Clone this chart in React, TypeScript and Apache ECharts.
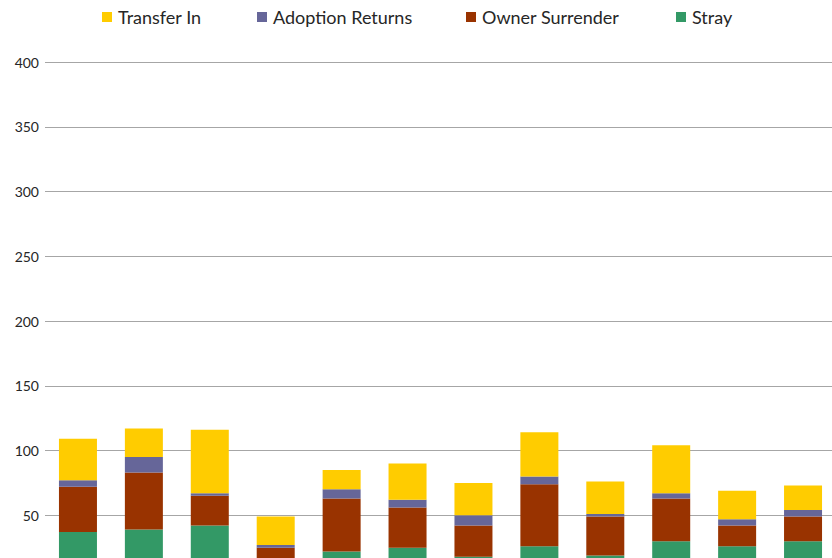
import React, { useEffect, useRef } from "react";
import * as echarts from "echarts";

const categories = ["Jan", "Feb", "Mar", "Apr", "May", "Jun", "Jul", "Aug", "Sep", "Oct", "Nov", "Dec"];
const stray = [37, 39, 42, 12, 22, 25, 18, 26, 19, 30, 26, 30];
const ownerSurrender = [35, 44, 23, 13, 41, 31, 24, 48, 30, 33, 16, 19];
const adoptionReturns = [5, 12, 2, 2, 7, 6, 8, 6, 2, 4, 5, 5];
const transferIn = [32, 22, 49, 22, 15, 28, 25, 34, 25, 37, 22, 19];
const yTicks = [0, 50, 100, 150, 200, 250, 300, 350, 400];
const legendNames = ["Transfer In", "Adoption Returns", "Owner Surrender", "Stray"];
const legendLefts = [102, 257, 466, 676];

export default function App() {
  const ref = useRef<HTMLDivElement>(null);
  useEffect(() => {
    if (!ref.current) return;
    const chart = echarts.init(ref.current, null, { renderer: "svg" });
    const font = "Lato, 'DejaVu Sans', sans-serif";
    const mk = (name: string, data: number[], color: string) => ({
      name,
      type: "bar",
      stack: "total",
      data,
      barWidth: 38,
      itemStyle: { color },
    });
    chart.setOption({
      animation: false,
      backgroundColor: "#ffffff",
      textStyle: { fontFamily: font },
      legend: legendNames.map((n, i) => ({
        top: 8,
        left: legendLefts[i],
        padding: 0,
        icon: "rect",
        itemWidth: 10,
        itemHeight: 10,
        itemGap: 0,
        textStyle: { fontSize: 18, color: "#262626", fontFamily: font, padding: [0, 0, 0, 1] },
        data: [n],
      })),
      grid: { left: 45, top: 62, width: 791, height: 518, containLabel: false },
      xAxis: {
        type: "category",
        data: categories,
        axisLine: { show: true, lineStyle: { color: "#a6a6a6" } },
        axisTick: { show: false },
        axisLabel: { show: false },
      },
      yAxis: {
        type: "value",
        min: yTicks[0],
        max: yTicks[yTicks.length - 1],
        interval: 50,
        axisLine: { show: false },
        axisTick: { show: false },
        axisLabel: {
          color: "#262626",
          fontSize: 14,
          margin: 6,
          fontFamily: font,
          formatter: (v: number) => (v === 0 ? "" : String(v)),
        },
        splitLine: { lineStyle: { color: "#a6a6a6", width: 1 } },
      },
      series: [
        mk("Stray", stray, "#339966"),
        mk("Owner Surrender", ownerSurrender, "#993300"),
        mk("Adoption Returns", adoptionReturns, "#666699"),
        mk("Transfer In", transferIn, "#ffcc00"),
      ],
    });
    return () => chart.dispose();
  }, []);
  return (
    <div style={{ position: "fixed", left: 0, top: 0, width: 832, height: 558, overflow: "hidden", background: "#fff" }}>
      <div ref={ref} style={{ width: 840, height: 640 }} />
    </div>
  );
}
